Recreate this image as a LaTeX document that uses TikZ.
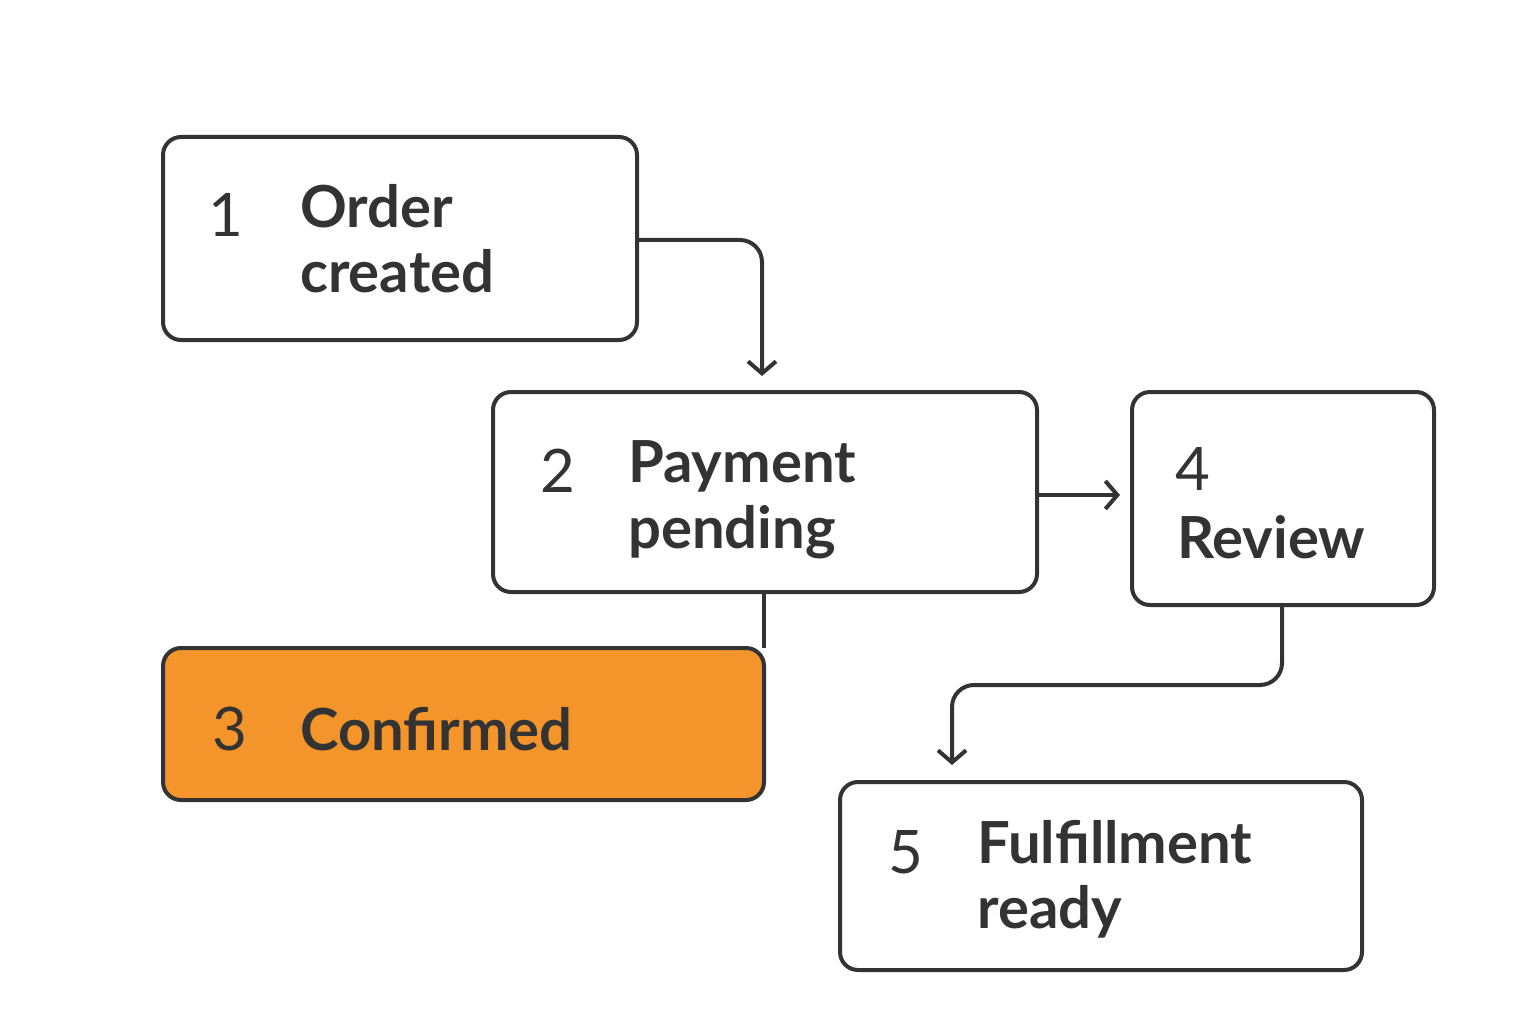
\documentclass[tikz,border=0pt]{standalone}
\usepackage{fontspec}
\setmainfont{Lato}
\usetikzlibrary{arrows.meta}
\definecolor{ink}{HTML}{333333}
\definecolor{orng}{HTML}{F3952B}
\begin{document}
\begin{tikzpicture}[x=1pt,y=-1pt,
  box/.style={draw=ink,line width=4pt,rounded corners=18pt},
  lbl/.style={anchor=base west,text=ink,font=\fontsize{58}{62}\selectfont\bfseries,inner sep=0pt},
  num/.style={anchor=base west,text=ink,font=\fontsize{60}{62}\selectfont,inner sep=0pt},
  con/.style={draw=ink,line width=4pt,rounded corners=22pt},
  arr/.style={con,-{Straight Barb[length=12pt,width=28pt,line width=4pt]}}]
\useasboundingbox (0,0) rectangle (1536,1024);
\draw[box] (163,137) rectangle (637,340);
\coordinate (b1r) at (637,240);
\node[num] (n1) at (208,237) {1};
\node[lbl] (t1a) at (300,228) {Order};
\node[lbl] (t1b) at (300,293) {created};
\draw[box] (493,392) rectangle (1037,592);
\node[num] (n2) at (540,492) {2};
\node[lbl] (t2a) at (628,482) {Payment};
\node[lbl] (t2b) at (628,548) {pending};
\draw[box] (1132,392) rectangle (1434,605);
\node[num] (n4) at (1175,490) {4};
\node[lbl] (t4) at (1177,558) {Review};
\draw[box,fill=orng] (163,648) rectangle (764,800);
\node[num] (n3) at (212,750) {3};
\node[lbl] (t3) at (300,750) {Confirmed};
\draw[box] (840,782) rectangle (1362,970);
\node[num] (n5) at (888,873) {5};
\node[lbl] (t5a) at (977,863) {Fulfillment};
\node[lbl] (t5b) at (977,928) {ready};
\coordinate (a1) at (762,376);
\coordinate (a2s) at (1037,495);
\coordinate (a2e) at (1120,495);
\coordinate (l3s) at (764,592);
\coordinate (l3e) at (764,648);
\coordinate (a4s) at (1282,605);
\coordinate (a4e) at (952,765);
\draw[arr] (b1r) -| (a1);
\draw[arr,rounded corners=0pt] (a2s) -- (a2e);
\draw[con] (l3s) -- (l3e);
\draw[arr] (a4s) |- (1100,685) -| (a4e);
\end{tikzpicture}
\end{document}
